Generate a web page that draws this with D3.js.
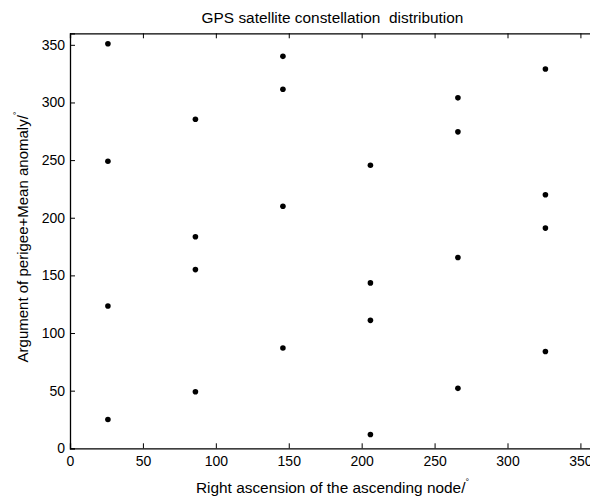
<!DOCTYPE html>
<html>
<head>
<meta charset="utf-8">
<script src="https://cdn.jsdelivr.net/npm/d3@7/dist/d3.min.js"></script>
<style>
  html, body { margin: 0; padding: 0; background: #fff; }
  svg { display: block; font-family: "Liberation Sans", Arial, sans-serif; }
</style>
</head>
<body>
<svg id="chart"></svg>
<script>
// satellite positions per orbital plane (RAAN, argument of perigee + mean anomaly)
const planeRaan = [26, 86, 146, 206, 266, 326];
const planeA = [351, 249, 123.5, 25];
const planeB = [285.5, 183.5, 155, 49];
const planeC = [340, 311.5, 210, 87];
const planeD = [245.5, 143.5, 111, 12];
const planeE = [304, 274.5, 165.5, 52];
const planeF = [329, 220, 191, 84];
const xTicks = [0, 50, 100, 150, 200, 250, 300, 350];
const yTicks = [0, 50, 100, 150, 200, 250, 300, 350];

const width = 590, height = 499;
const margin = { top: 33.3, right: -5, bottom: 50.7, left: 70 };
const innerWidth = width - margin.left - margin.right;
const innerHeight = height - margin.top - margin.bottom;

const svg = d3.select('#chart')
  .attr('width', width)
  .attr('height', height);

const g = svg.append('g')
  .attr('transform', `translate(${margin.left},${margin.top})`);

const xScale = d3.scaleLinear().domain([0, 360]).range([0, innerWidth]);
const yScale = d3.scaleLinear().domain([0, 360]).range([innerHeight, 0]);

const points = [];
[planeA, planeB, planeC, planeD, planeE, planeF].forEach((vals, i) => {
  vals.forEach(v => points.push({ x: planeRaan[i], y: v }));
});

// axes, MATLAB style: ticks pointing inward on all four sides
const tickLen = 5;
const xb = g.append('g')
  .attr('transform', `translate(0,${innerHeight})`)
  .call(d3.axisBottom(xScale).tickValues(xTicks).tickSize(-tickLen).tickPadding(8));
const xt = g.append('g')
  .call(d3.axisTop(xScale).tickValues(xTicks).tickSize(-tickLen));
const yl = g.append('g')
  .call(d3.axisLeft(yScale).tickValues(yTicks).tickSize(-tickLen).tickPadding(5));
const yr = g.append('g')
  .attr('transform', `translate(${innerWidth},0)`)
  .call(d3.axisRight(yScale).tickValues(yTicks).tickSize(-tickLen));

// top and right axes carry ticks only
xt.selectAll('.tick text').remove();
yr.selectAll('.tick text').remove();

[xb, xt, yl, yr].forEach(ax => {
  ax.select('.domain').attr('stroke', '#000').attr('stroke-width', 1.3);
  ax.selectAll('.tick line').attr('stroke', '#000').attr('stroke-width', 1);
  ax.selectAll('.tick text')
    .attr('fill', '#000')
    .attr('font-size', '14px')
    .attr('font-family', '"Liberation Sans", Arial, sans-serif');
});

// points
g.selectAll('circle.sat')
  .data(points)
  .enter()
  .append('circle')
  .attr('class', 'sat')
  .attr('cx', d => xScale(d.x))
  .attr('cy', d => yScale(d.y))
  .attr('r', 2.8)
  .attr('fill', '#000');

// title
svg.append('text')
  .attr('x', margin.left + innerWidth / 2)
  .attr('y', 23)
  .attr('text-anchor', 'middle')
  .attr('font-size', '15.4px')
  .attr('fill', '#000')
  .attr('xml:space', 'preserve')
  .style('white-space', 'pre')
  .text('GPS satellite constellation  distribution');

// x label
const xl = svg.append('text')
  .attr('x', margin.left + innerWidth / 2)
  .attr('y', 493)
  .attr('text-anchor', 'middle')
  .attr('font-size', '15.4px')
  .attr('fill', '#000')
  .text('Right ascension of the ascending node/');
xl.append('tspan').attr('font-size', '9px').attr('dy', -8).text('°');

// y label
const ylab = svg.append('text')
  .attr('transform', `translate(28,237) rotate(-90)`)
  .attr('text-anchor', 'middle')
  .attr('font-size', '15px')
  .attr('fill', '#000')
  .text('Argument of perigee+Mean anomaly/');
ylab.append('tspan').attr('font-size', '9px').attr('dy', -8).text('°');
</script>
</body>
</html>
